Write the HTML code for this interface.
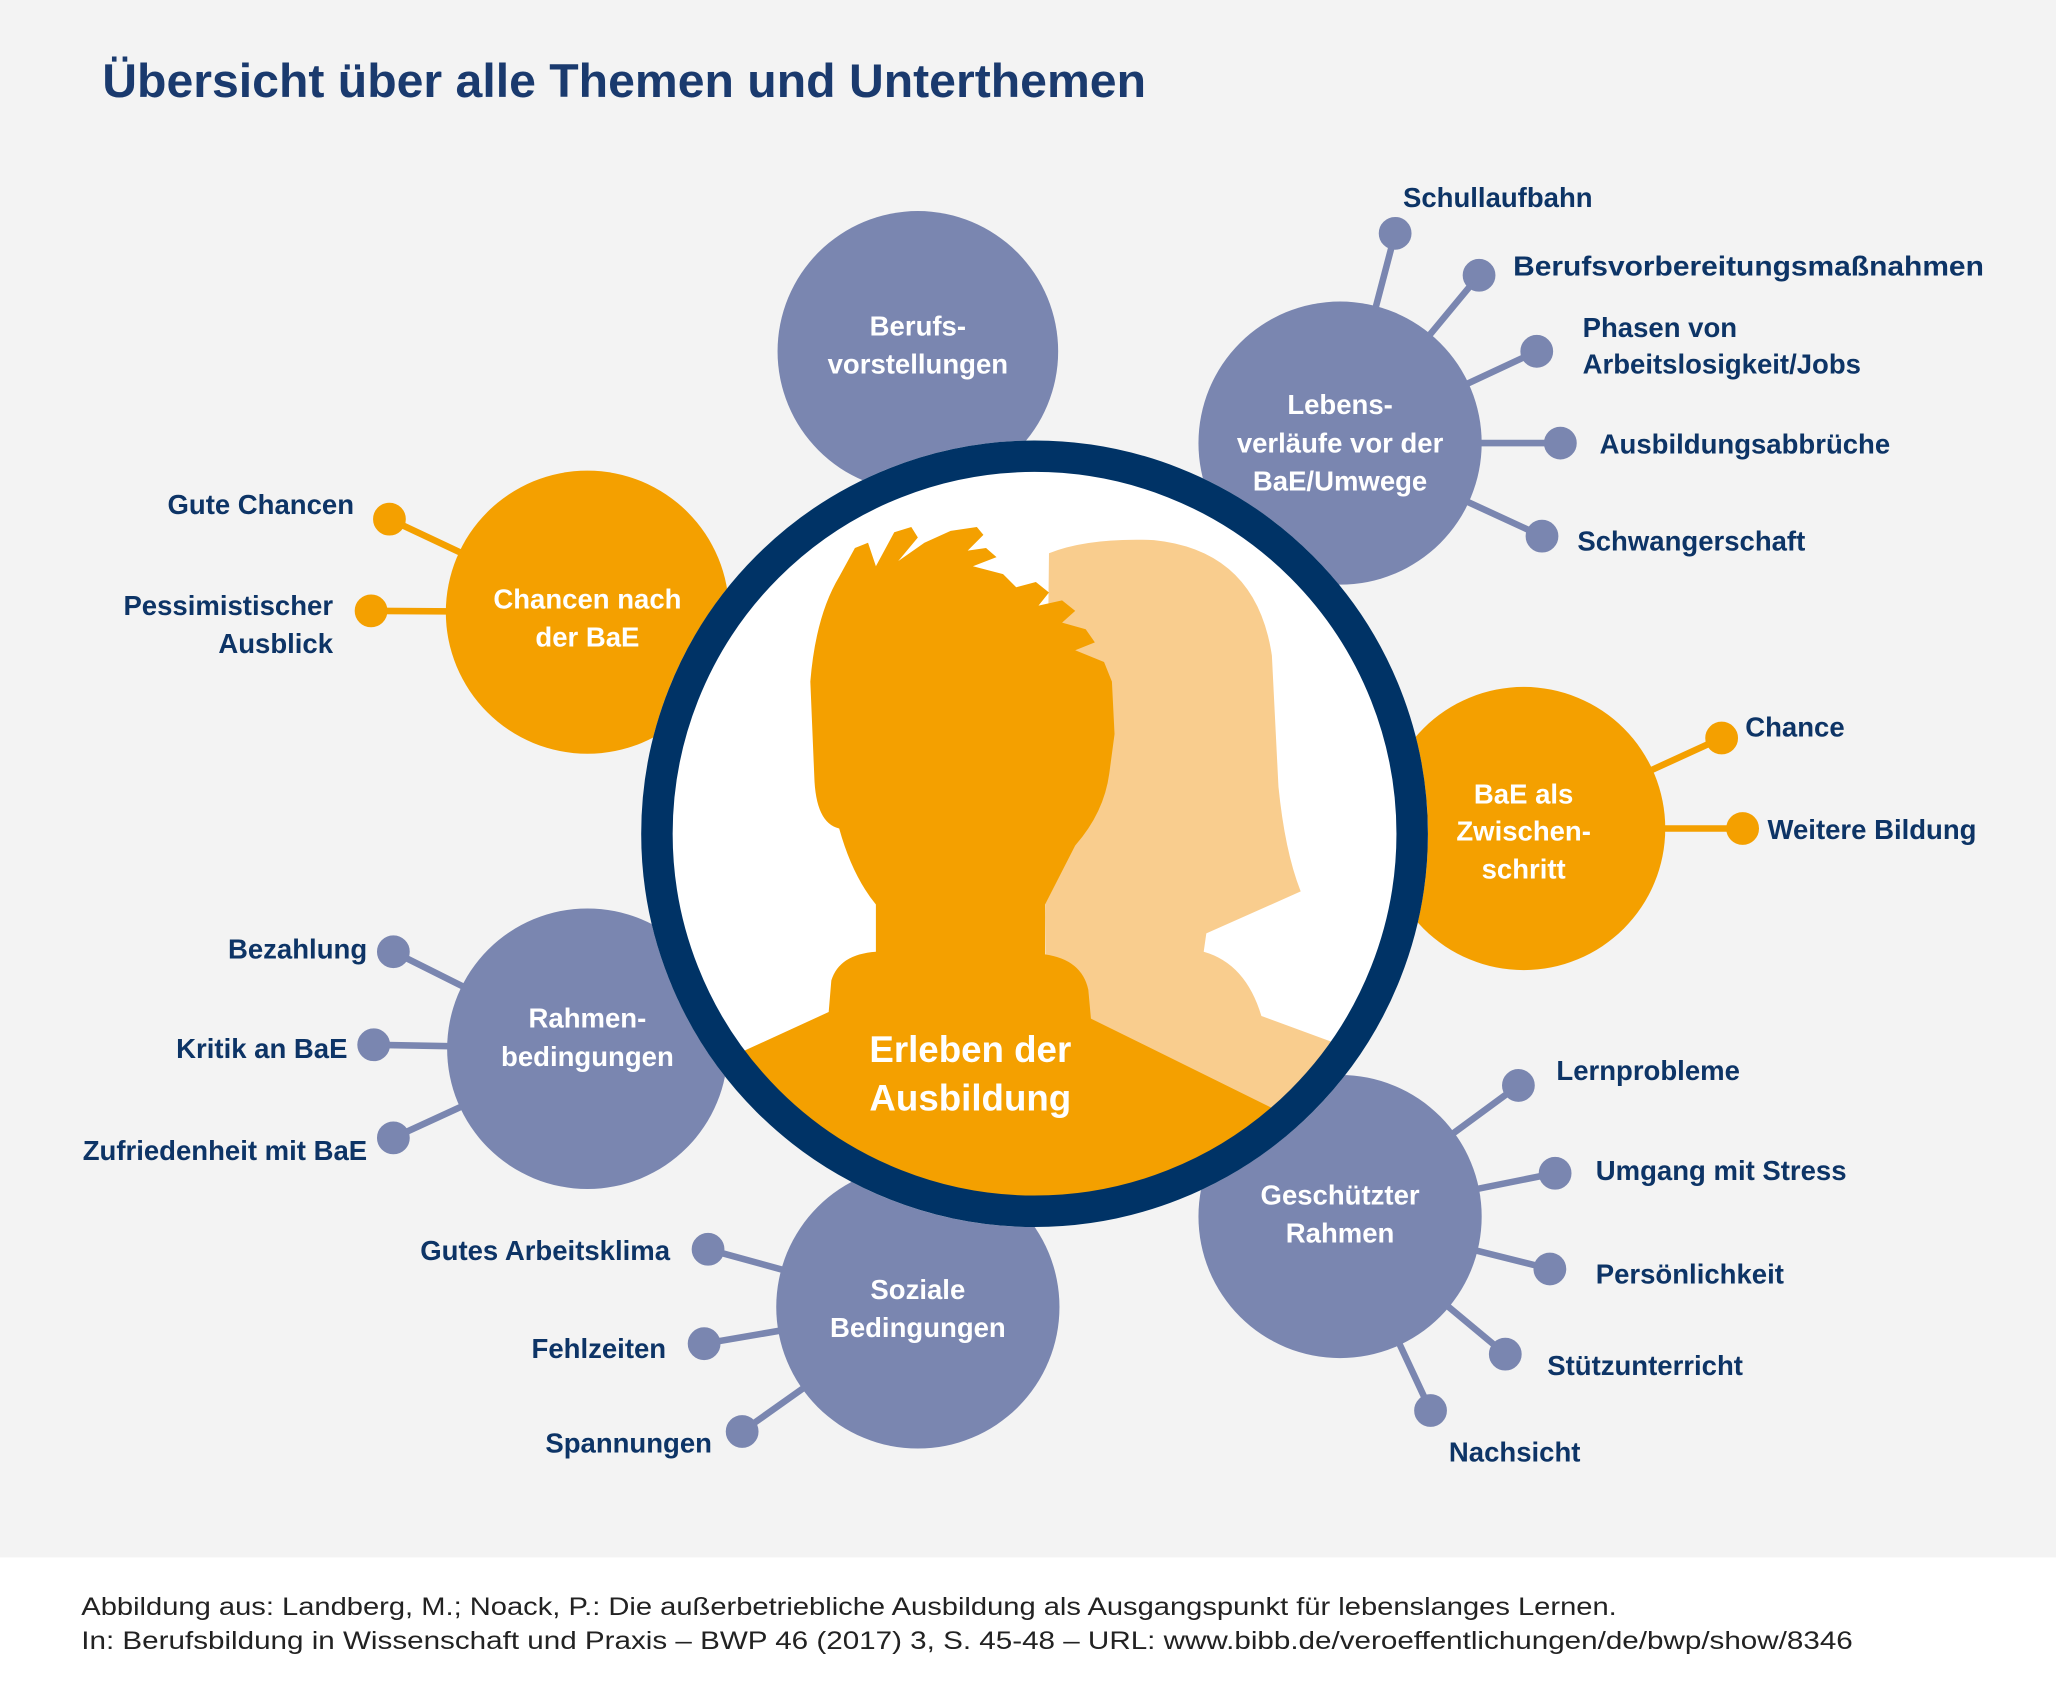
<!DOCTYPE html>
<html><head><meta charset="utf-8"><style>
html,body{margin:0;padding:0;background:#f3f3f3}
svg{display:block}
text{font-family:"Liberation Sans",sans-serif}
.l{font-weight:bold;font-size:21px;fill:#0d3466}
.c{font-weight:bold;font-size:21px;fill:#fff;text-anchor:middle}
</style></head><body>
<svg width="2056" height="1695" viewBox="0 0 1568 1293" preserveAspectRatio="none" xmlns="http://www.w3.org/2000/svg">
<rect width="1568" height="1293" fill="#f3f3f3"/>
<rect y="1188" width="1568" height="105" fill="#fff"/>
<text x="78" y="74" font-size="36" font-weight="bold" fill="#1a3a6e" textLength="796" lengthAdjust="spacingAndGlyphs">Übersicht über alle Themen und Unterthemen</text>

<g stroke="#7a86b0" stroke-width="5" fill="#7a86b0">
<line x1="1022" y1="338" x2="1064" y2="178"/><circle cx="1064" cy="178" r="10"/>
<line x1="1022" y1="338" x2="1128" y2="210"/><circle cx="1128" cy="210" r="10"/>
<line x1="1022" y1="338" x2="1172" y2="268"/><circle cx="1172" cy="268" r="10"/>
<line x1="1022" y1="338" x2="1190" y2="338"/><circle cx="1190" cy="338" r="10"/>
<line x1="1022" y1="338" x2="1176" y2="409"/><circle cx="1176" cy="409" r="10"/>
<line x1="448" y1="800" x2="300" y2="726"/><circle cx="300" cy="726" r="10"/>
<line x1="448" y1="800" x2="285" y2="797"/><circle cx="285" cy="797" r="10"/>
<line x1="448" y1="800" x2="300" y2="868"/><circle cx="300" cy="868" r="10"/>
<line x1="700" y1="997" x2="540" y2="953"/><circle cx="540" cy="953" r="10"/>
<line x1="700" y1="997" x2="537" y2="1025"/><circle cx="537" cy="1025" r="10"/>
<line x1="700" y1="997" x2="566" y2="1092"/><circle cx="566" cy="1092" r="10"/>
<line x1="1022" y1="928" x2="1158" y2="828"/><circle cx="1158" cy="828" r="10"/>
<line x1="1022" y1="928" x2="1186" y2="895"/><circle cx="1186" cy="895" r="10"/>
<line x1="1022" y1="928" x2="1182" y2="968"/><circle cx="1182" cy="968" r="10"/>
<line x1="1022" y1="928" x2="1148" y2="1033"/><circle cx="1148" cy="1033" r="10"/>
<line x1="1022" y1="928" x2="1091" y2="1076"/><circle cx="1091" cy="1076" r="10"/>
</g>
<g stroke="#f4a000" stroke-width="5" fill="#f4a000">
<line x1="448" y1="467" x2="297" y2="396"/><circle cx="297" cy="396" r="10"/>
<line x1="448" y1="467" x2="283" y2="466"/><circle cx="283" cy="466" r="10"/>
<line x1="1162" y1="632" x2="1313" y2="563"/><circle cx="1313" cy="563" r="10"/>
<line x1="1162" y1="632" x2="1329" y2="632"/><circle cx="1329" cy="632" r="10"/>
</g>

<g fill="#7a86b0">
<circle cx="700" cy="268" r="107"/>
<circle cx="1022" cy="338" r="108"/>
<circle cx="448" cy="800" r="107"/>
<circle cx="700" cy="997" r="108"/>
<circle cx="1022" cy="928" r="108"/>
</g>
<g fill="#f4a000">
<circle cx="448" cy="467" r="108"/>
<circle cx="1162" cy="632" r="108"/>
</g>

<defs><clipPath id="cp"><circle cx="789" cy="636" r="290"/></clipPath></defs>
<circle cx="789" cy="636" r="300" fill="#fff"/>
<g clip-path="url(#cp)">
<path fill="#f9cd8e" d="M797,700 L800,422 Q830,410 880,412 Q958,420 970,500 L975,600 Q980,650 992,680 L920,712 L918,726 Q950,735 962,775 L1030,800 L1030,1000 L800,1000 Z"/>
<path fill="#f4a000" d="M560,805 L632,772 L634,748 Q640,728 668,726 L668,690 Q650,668 640,632 Q622,628 621,592 L618,520 Q622,470 640,440 L652,418 L662,414 L668,432 L682,406 L695,402 L700,410 L685,428 L705,414 L725,405 L745,402 L750,408 L738,420 L752,418 L760,425 L742,432 L765,438 L775,448 L790,444 L800,452 L792,462 L810,458 L820,466 L810,475 L828,480 L835,490 L820,496 L842,505 L848,520 L850,560 L846,590 Q842,620 820,645 L797,690 L797,728 Q825,732 830,755 L832,777 L1000,860 L1000,1000 L560,1000 Z"/>
</g>
<circle cx="789" cy="636" r="288" fill="none" stroke="#003366" stroke-width="24"/>
<text x="740" y="810" font-size="28" font-weight="bold" fill="#fff" text-anchor="middle">Erleben der</text>
<text x="740" y="847" font-size="28" font-weight="bold" fill="#fff" text-anchor="middle">Ausbildung</text>

<text class="c" x="700" y="256">Berufs-</text><text class="c" x="700" y="285">vorstellungen</text>
<text class="c" x="1022" y="316">Lebens-</text><text class="c" x="1022" y="345">verläufe vor der</text><text class="c" x="1022" y="374">BaE/Umwege</text>
<text class="c" x="448" y="464">Chancen nach</text><text class="c" x="448" y="493">der BaE</text>
<text class="c" x="1162" y="613">BaE als</text><text class="c" x="1162" y="641">Zwischen-</text><text class="c" x="1162" y="670">schritt</text>
<text class="c" x="448" y="784">Rahmen-</text><text class="c" x="448" y="813">bedingungen</text>
<text class="c" x="700" y="991">Soziale</text><text class="c" x="700" y="1020">Bedingungen</text>
<text class="c" x="1022" y="919">Geschützter</text><text class="c" x="1022" y="948">Rahmen</text>

<text class="l" x="1070" y="158">Schullaufbahn</text>
<text class="l" x="1154" y="210" textLength="359" lengthAdjust="spacingAndGlyphs">Berufsvorbereitungsmaßnahmen</text>
<text class="l" x="1207" y="257">Phasen von</text>
<text class="l" x="1207" y="285">Arbeitslosigkeit/Jobs</text>
<text class="l" x="1220" y="346">Ausbildungsabbrüche</text>
<text class="l" x="1203" y="420">Schwangerschaft</text>
<text class="l" x="1331" y="562">Chance</text>
<text class="l" x="1348" y="640">Weitere Bildung</text>
<text class="l" x="1187" y="824">Lernprobleme</text>
<text class="l" x="1217" y="900">Umgang mit Stress</text>
<text class="l" x="1217" y="979">Persönlichkeit</text>
<text class="l" x="1180" y="1049">Stützunterricht</text>
<text class="l" x="1105" y="1115">Nachsicht</text>
<g text-anchor="end">
<text class="l" x="270" y="392">Gute Chancen</text>
<text class="l" x="254" y="469">Pessimistischer</text>
<text class="l" x="254" y="498">Ausblick</text>
<text class="l" x="280" y="731">Bezahlung</text>
<text class="l" x="265" y="807">Kritik an BaE</text>
<text class="l" x="280" y="885">Zufriedenheit mit BaE</text>
<text class="l" x="511" y="961">Gutes Arbeitsklima</text>
<text class="l" x="508" y="1036">Fehlzeiten</text>
<text class="l" x="543" y="1108">Spannungen</text>
</g>
<text x="62" y="1232" font-size="19" fill="#222" textLength="1171" lengthAdjust="spacingAndGlyphs">Abbildung aus: Landberg, M.; Noack, P.: Die außerbetriebliche Ausbildung als Ausgangspunkt für lebenslanges Lernen.</text>
<text x="62" y="1258" font-size="19" fill="#222" textLength="1351" lengthAdjust="spacingAndGlyphs">In: Berufsbildung in Wissenschaft und Praxis – BWP 46 (2017) 3, S. 45-48 – URL: www.bibb.de/veroeffentlichungen/de/bwp/show/8346</text>
</svg>
</body></html>
